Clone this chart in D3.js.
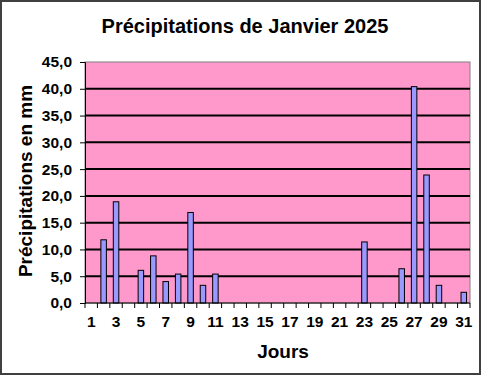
<!DOCTYPE html>
<html><head><meta charset="utf-8">
<script src="https://cdn.jsdelivr.net/npm/d3@7"></script>
<style>body{margin:0;background:#fff}svg{display:block}</style>
</head><body>
<script>
const days = d3.range(1, 32);
const values = [0,11.8,18.9,0,6.1,8.8,4.0,5.4,16.9,3.3,5.4,0,0,0,0,0,0,0,0,0,0,0,11.4,0,0,6.4,40.4,23.9,3.3,0,2.0];
const yTicks = [0,5,10,15,20,25,30,35,40,45];
const xLabels = days.filter(d => d % 2 === 1);
const title = "Précipitations de Janvier 2025";
const yTitle = "Précipitations en mm";
const xTitle = "Jours";

const W = 481, H = 375;
const m = {l:85, r:11, t:62, b:72};
const svg = d3.select("body").append("svg").attr("width", W).attr("height", H);
svg.append("rect").attr("x",1).attr("y",1).attr("width",W-2).attr("height",H-2)
  .attr("fill","#fff").attr("stroke","#404040").attr("stroke-width",2);

const x = d3.scaleBand().domain(days).range([m.l, W-m.r]);
const y = d3.scaleLinear().domain([0,45]).range([H-m.b, m.t]);
const font = "Arial, 'Liberation Sans', sans-serif";

svg.append("rect").attr("x",m.l).attr("y",m.t).attr("width",W-m.r-m.l).attr("height",H-m.b-m.t)
  .attr("fill","#FF99CC").attr("stroke","#808080").attr("stroke-width",1);

svg.append("g").selectAll("line").data(yTicks.filter(d=>d>0 && d<45)).join("line")
  .attr("x1",m.l).attr("x2",W-m.r).attr("y1",d=>y(d)).attr("y2",d=>y(d))
  .attr("stroke","#000").attr("stroke-width",2);

const bw = 5.5;
svg.append("g").selectAll("rect").data(days.filter((d,i)=>values[i]>0)).join("rect")
  .attr("x",d=>x(d)+x.bandwidth()/2-bw/2).attr("width",bw)
  .attr("y",d=>y(values[d-1])).attr("height",d=>y(0)-y(values[d-1]))
  .attr("fill","#9999FF").attr("stroke","#000").attr("stroke-width",1);

const fmt = d => d.toFixed(1).replace(".", ",");
const ya = svg.append("g").attr("transform",`translate(${m.l},0)`)
  .call(d3.axisLeft(y).tickValues(yTicks).tickFormat(fmt).tickSize(5).tickPadding(8));
ya.select(".domain").attr("stroke","#000").attr("stroke-width",1);
ya.selectAll("text").attr("font-family",font).attr("font-size",15.5).attr("font-weight","bold").attr("fill","#000");

const xa = svg.append("g").attr("transform",`translate(0,${y(0)})`);
xa.append("line").attr("x1",m.l).attr("x2",W-m.r).attr("stroke","#000");
xa.selectAll("line.t").data(days.concat([32])).join("line").attr("class","t")
  .attr("x1",d=>d<=31?x(d):x(31)+x.bandwidth()).attr("x2",d=>d<=31?x(d):x(31)+x.bandwidth())
  .attr("y1",0).attr("y2",5).attr("stroke","#000");
xa.selectAll("text").data(xLabels).join("text")
  .attr("x",d=>x(d)+x.bandwidth()/2).attr("y",24).attr("text-anchor","middle")
  .attr("font-family",font).attr("font-size",15.5).attr("font-weight","bold").text(d=>d);

svg.append("text").attr("x",245).attr("y",33).attr("text-anchor","middle")
  .attr("font-family",font).attr("font-size",20).attr("font-weight","bold").text(title);
svg.append("text").attr("x",283).attr("y",358).attr("text-anchor","middle")
  .attr("font-family",font).attr("font-size",19).attr("font-weight","bold").text(xTitle);
svg.append("text").attr("transform",`translate(32,181) rotate(-90)`).attr("text-anchor","middle")
  .attr("font-family",font).attr("font-size",19).attr("font-weight","bold").text(yTitle);
</script>
</body></html>
